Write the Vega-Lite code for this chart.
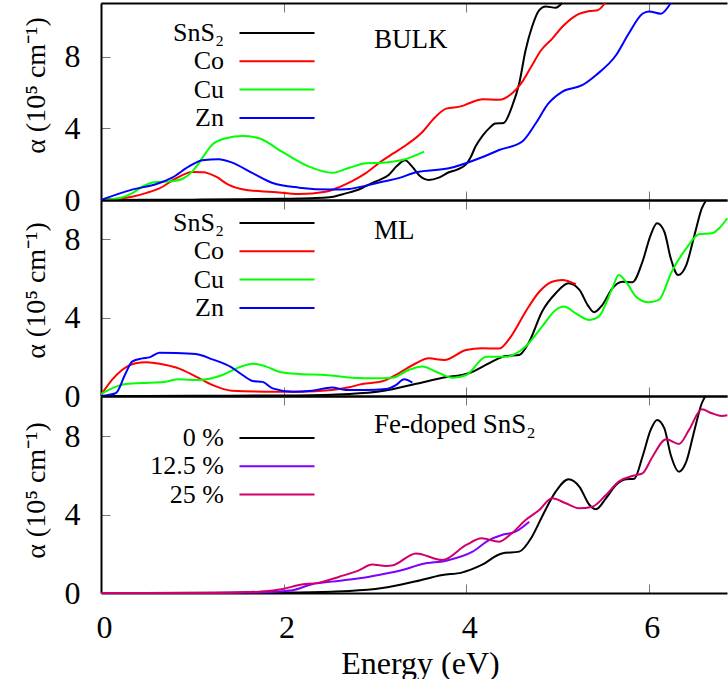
{
  "$schema": "https://vega.github.io/schema/vega-lite/v6.json",
  "background": "white",
  "padding": {"left": 21, "top": -1, "right": 0, "bottom": 0},
  "bounds": "flush",
  "spacing": 0,
  "config": {
    "view": {"stroke": null},
    "font": "Liberation Serif",
    "axis": {
      "labelFont": "Liberation Serif", "titleFont": "Liberation Serif",
      "labelColor": "black", "titleColor": "black", "titleFontWeight": "normal",
      "domainColor": "black", "domainWidth": 2,
      "tickColor": "#777", "tickWidth": 1, "tickSize": -9,
      "grid": false, "labelFontSize": 32, "titleFontSize": 32, "labelFlush": false
    },
    "legend": {
      "orient": "none", "title": null, "symbolType": "M-4,0H4", "symbolSize": 352, "symbolStrokeWidth": 2,
      "labelFont": "Liberation Serif", "labelFontSize": 26, "labelColor": "black", "labelAlign": "right",
      "labelOffset": -66, "rowPadding": 2.3, "labelLimit": 300, "padding": 0
    },
    "line": {"strokeWidth": 2, "interpolate": "monotone", "clip": true}
  },
  "datasets": {
    "bulk": [
      {"E":0,"a":0,"s":"SnS₂"},{"E":0.5,"a":0.01,"s":"SnS₂"},{"E":1.0,"a":0.02,"s":"SnS₂"},{"E":1.5,"a":0.04,"s":"SnS₂"},{"E":2.0,"a":0.07,"s":"SnS₂"},{"E":2.3,"a":0.1,"s":"SnS₂"},{"E":2.5,"a":0.15,"s":"SnS₂"},{"E":2.68,"a":0.37,"s":"SnS₂"},{"E":2.83,"a":0.6,"s":"SnS₂"},{"E":2.95,"a":0.9,"s":"SnS₂"},{"E":3.04,"a":1.1,"s":"SnS₂"},{"E":3.15,"a":1.4,"s":"SnS₂"},{"E":3.24,"a":1.9,"s":"SnS₂"},{"E":3.33,"a":2.22,"s":"SnS₂"},{"E":3.41,"a":1.85,"s":"SnS₂"},{"E":3.49,"a":1.35,"s":"SnS₂"},{"E":3.59,"a":1.12,"s":"SnS₂"},{"E":3.7,"a":1.25,"s":"SnS₂"},{"E":3.81,"a":1.55,"s":"SnS₂"},{"E":3.9,"a":1.7,"s":"SnS₂"},{"E":4.0,"a":2.0,"s":"SnS₂"},{"E":4.05,"a":2.4,"s":"SnS₂"},{"E":4.1,"a":2.97,"s":"SnS₂"},{"E":4.18,"a":3.6,"s":"SnS₂"},{"E":4.25,"a":4.0,"s":"SnS₂"},{"E":4.32,"a":4.27,"s":"SnS₂"},{"E":4.41,"a":4.3,"s":"SnS₂"},{"E":4.5,"a":5.2,"s":"SnS₂"},{"E":4.58,"a":6.5,"s":"SnS₂"},{"E":4.65,"a":8.36,"s":"SnS₂"},{"E":4.72,"a":9.66,"s":"SnS₂"},{"E":4.8,"a":10.6,"s":"SnS₂"},{"E":4.87,"a":10.8,"s":"SnS₂"},{"E":4.98,"a":10.74,"s":"SnS₂"},{"E":5.05,"a":11.0,"s":"SnS₂"},
      {"E":0,"a":0,"s":"Co"},{"E":0.34,"a":0.18,"s":"Co"},{"E":0.5,"a":0.4,"s":"Co"},{"E":0.64,"a":0.65,"s":"Co"},{"E":0.82,"a":1.2,"s":"Co"},{"E":1.0,"a":1.56,"s":"Co"},{"E":1.12,"a":1.55,"s":"Co"},{"E":1.26,"a":1.3,"s":"Co"},{"E":1.4,"a":0.84,"s":"Co"},{"E":1.59,"a":0.56,"s":"Co"},{"E":1.88,"a":0.45,"s":"Co"},{"E":2.17,"a":0.33,"s":"Co"},{"E":2.46,"a":0.46,"s":"Co"},{"E":2.61,"a":0.72,"s":"Co"},{"E":2.75,"a":1.05,"s":"Co"},{"E":2.9,"a":1.5,"s":"Co"},{"E":3.08,"a":2.2,"s":"Co"},{"E":3.2,"a":2.6,"s":"Co"},{"E":3.35,"a":3.1,"s":"Co"},{"E":3.52,"a":3.8,"s":"Co"},{"E":3.63,"a":4.46,"s":"Co"},{"E":3.78,"a":5.1,"s":"Co"},{"E":3.95,"a":5.24,"s":"Co"},{"E":4.03,"a":5.4,"s":"Co"},{"E":4.18,"a":5.63,"s":"Co"},{"E":4.36,"a":5.6,"s":"Co"},{"E":4.5,"a":5.95,"s":"Co"},{"E":4.6,"a":6.5,"s":"Co"},{"E":4.71,"a":7.43,"s":"Co"},{"E":4.82,"a":8.36,"s":"Co"},{"E":4.94,"a":9.0,"s":"Co"},{"E":5.05,"a":9.66,"s":"Co"},{"E":5.2,"a":10.3,"s":"Co"},{"E":5.35,"a":10.55,"s":"Co"},{"E":5.44,"a":10.6,"s":"Co"},{"E":5.52,"a":11.0,"s":"Co"},
      {"E":0,"a":0,"s":"Cu"},{"E":0.2,"a":0.1,"s":"Cu"},{"E":0.34,"a":0.37,"s":"Cu"},{"E":0.45,"a":0.74,"s":"Cu"},{"E":0.6,"a":1.0,"s":"Cu"},{"E":0.78,"a":1.05,"s":"Cu"},{"E":0.9,"a":1.2,"s":"Cu"},{"E":1.0,"a":1.6,"s":"Cu"},{"E":1.07,"a":2.05,"s":"Cu"},{"E":1.15,"a":2.65,"s":"Cu"},{"E":1.22,"a":3.1,"s":"Cu"},{"E":1.37,"a":3.45,"s":"Cu"},{"E":1.55,"a":3.57,"s":"Cu"},{"E":1.73,"a":3.45,"s":"Cu"},{"E":1.98,"a":2.7,"s":"Cu"},{"E":2.28,"a":1.86,"s":"Cu"},{"E":2.53,"a":1.52,"s":"Cu"},{"E":2.72,"a":1.8,"s":"Cu"},{"E":2.9,"a":2.05,"s":"Cu"},{"E":3.08,"a":2.08,"s":"Cu"},{"E":3.3,"a":2.23,"s":"Cu"},{"E":3.54,"a":2.7,"s":"Cu"},
      {"E":0,"a":0,"s":"Zn"},{"E":0.34,"a":0.58,"s":"Zn"},{"E":0.6,"a":0.88,"s":"Zn"},{"E":0.78,"a":1.25,"s":"Zn"},{"E":0.96,"a":1.86,"s":"Zn"},{"E":1.11,"a":2.22,"s":"Zn"},{"E":1.29,"a":2.28,"s":"Zn"},{"E":1.43,"a":2.1,"s":"Zn"},{"E":1.66,"a":1.5,"s":"Zn"},{"E":1.88,"a":0.95,"s":"Zn"},{"E":2.17,"a":0.69,"s":"Zn"},{"E":2.53,"a":0.58,"s":"Zn"},{"E":2.72,"a":0.62,"s":"Zn"},{"E":2.9,"a":0.8,"s":"Zn"},{"E":3.08,"a":1.02,"s":"Zn"},{"E":3.26,"a":1.22,"s":"Zn"},{"E":3.45,"a":1.55,"s":"Zn"},{"E":3.81,"a":1.77,"s":"Zn"},{"E":4.18,"a":2.4,"s":"Zn"},{"E":4.36,"a":2.79,"s":"Zn"},{"E":4.61,"a":3.25,"s":"Zn"},{"E":4.76,"a":4.27,"s":"Zn"},{"E":4.9,"a":5.39,"s":"Zn"},{"E":5.05,"a":6.04,"s":"Zn"},{"E":5.27,"a":6.41,"s":"Zn"},{"E":5.42,"a":6.97,"s":"Zn"},{"E":5.64,"a":8.08,"s":"Zn"},{"E":5.78,"a":9.3,"s":"Zn"},{"E":5.93,"a":10.4,"s":"Zn"},{"E":6.0,"a":10.53,"s":"Zn"},{"E":6.13,"a":10.4,"s":"Zn"},{"E":6.24,"a":11.0,"s":"Zn"}
    ],
    "ml": [
      {"E":0,"a":0,"s":"SnS₂"},{"E":1.0,"a":0.01,"s":"SnS₂"},{"E":2.0,"a":0.03,"s":"SnS₂"},{"E":2.53,"a":0.07,"s":"SnS₂"},{"E":2.72,"a":0.1,"s":"SnS₂"},{"E":3.08,"a":0.25,"s":"SnS₂"},{"E":3.45,"a":0.62,"s":"SnS₂"},{"E":3.74,"a":0.93,"s":"SnS₂"},{"E":4.03,"a":1.16,"s":"SnS₂"},{"E":4.25,"a":1.67,"s":"SnS₂"},{"E":4.43,"a":2.04,"s":"SnS₂"},{"E":4.58,"a":2.09,"s":"SnS₂"},{"E":4.69,"a":2.77,"s":"SnS₂"},{"E":4.83,"a":4.3,"s":"SnS₂"},{"E":4.98,"a":5.24,"s":"SnS₂"},{"E":5.12,"a":5.75,"s":"SnS₂"},{"E":5.24,"a":5.41,"s":"SnS₂"},{"E":5.33,"a":4.64,"s":"SnS₂"},{"E":5.4,"a":4.27,"s":"SnS₂"},{"E":5.49,"a":4.64,"s":"SnS₂"},{"E":5.6,"a":5.49,"s":"SnS₂"},{"E":5.71,"a":5.83,"s":"SnS₂"},{"E":5.82,"a":5.8,"s":"SnS₂"},{"E":5.93,"a":6.85,"s":"SnS₂"},{"E":6.02,"a":8.21,"s":"SnS₂"},{"E":6.09,"a":8.81,"s":"SnS₂"},{"E":6.17,"a":8.38,"s":"SnS₂"},{"E":6.24,"a":7.02,"s":"SnS₂"},{"E":6.32,"a":6.17,"s":"SnS₂"},{"E":6.41,"a":6.68,"s":"SnS₂"},{"E":6.5,"a":8.21,"s":"SnS₂"},{"E":6.58,"a":9.57,"s":"SnS₂"},{"E":6.63,"a":10.0,"s":"SnS₂"},
      {"E":0,"a":0.05,"s":"Co"},{"E":0.12,"a":0.82,"s":"Co"},{"E":0.23,"a":1.33,"s":"Co"},{"E":0.38,"a":1.67,"s":"Co"},{"E":0.49,"a":1.72,"s":"Co"},{"E":0.71,"a":1.58,"s":"Co"},{"E":0.85,"a":1.41,"s":"Co"},{"E":1.04,"a":0.99,"s":"Co"},{"E":1.22,"a":0.56,"s":"Co"},{"E":1.43,"a":0.27,"s":"Co"},{"E":1.81,"a":0.22,"s":"Co"},{"E":2.17,"a":0.22,"s":"Co"},{"E":2.53,"a":0.31,"s":"Co"},{"E":2.72,"a":0.45,"s":"Co"},{"E":2.86,"a":0.61,"s":"Co"},{"E":3.08,"a":0.75,"s":"Co"},{"E":3.26,"a":1.16,"s":"Co"},{"E":3.45,"a":1.67,"s":"Co"},{"E":3.59,"a":1.92,"s":"Co"},{"E":3.76,"a":1.84,"s":"Co"},{"E":4.0,"a":2.35,"s":"Co"},{"E":4.17,"a":2.43,"s":"Co"},{"E":4.36,"a":2.42,"s":"Co"},{"E":4.5,"a":3.11,"s":"Co"},{"E":4.65,"a":4.3,"s":"Co"},{"E":4.8,"a":5.32,"s":"Co"},{"E":4.94,"a":5.83,"s":"Co"},{"E":5.05,"a":5.92,"s":"Co"},{"E":5.2,"a":5.7,"s":"Co"},
      {"E":0,"a":0.1,"s":"Cu"},{"E":0.12,"a":0.39,"s":"Cu"},{"E":0.27,"a":0.61,"s":"Cu"},{"E":0.53,"a":0.68,"s":"Cu"},{"E":0.71,"a":0.73,"s":"Cu"},{"E":0.85,"a":0.85,"s":"Cu"},{"E":1.07,"a":0.82,"s":"Cu"},{"E":1.33,"a":1.07,"s":"Cu"},{"E":1.51,"a":1.46,"s":"Cu"},{"E":1.66,"a":1.65,"s":"Cu"},{"E":1.81,"a":1.5,"s":"Cu"},{"E":1.95,"a":1.24,"s":"Cu"},{"E":2.17,"a":1.12,"s":"Cu"},{"E":2.46,"a":1.07,"s":"Cu"},{"E":2.75,"a":0.93,"s":"Cu"},{"E":3.01,"a":0.9,"s":"Cu"},{"E":3.19,"a":0.93,"s":"Cu"},{"E":3.37,"a":1.33,"s":"Cu"},{"E":3.52,"a":1.5,"s":"Cu"},{"E":3.67,"a":1.24,"s":"Cu"},{"E":3.85,"a":0.93,"s":"Cu"},{"E":4.0,"a":1.07,"s":"Cu"},{"E":4.22,"a":2.0,"s":"Cu"},{"E":4.43,"a":2.0,"s":"Cu"},{"E":4.65,"a":2.52,"s":"Cu"},{"E":4.83,"a":3.54,"s":"Cu"},{"E":4.98,"a":4.39,"s":"Cu"},{"E":5.07,"a":4.56,"s":"Cu"},{"E":5.2,"a":4.22,"s":"Cu"},{"E":5.35,"a":3.88,"s":"Cu"},{"E":5.45,"a":4.05,"s":"Cu"},{"E":5.6,"a":5.49,"s":"Cu"},{"E":5.67,"a":6.17,"s":"Cu"},{"E":5.75,"a":5.83,"s":"Cu"},{"E":5.86,"a":5.07,"s":"Cu"},{"E":6.0,"a":4.78,"s":"Cu"},{"E":6.11,"a":4.9,"s":"Cu"},{"E":6.25,"a":6.34,"s":"Cu"},{"E":6.41,"a":7.53,"s":"Cu"},{"E":6.55,"a":8.25,"s":"Cu"},{"E":6.69,"a":8.3,"s":"Cu"},{"E":6.77,"a":8.56,"s":"Cu"},{"E":6.86,"a":9.07,"s":"Cu"},
      {"E":0,"a":0,"s":"Zn"},{"E":0.16,"a":0.14,"s":"Zn"},{"E":0.27,"a":1.16,"s":"Zn"},{"E":0.34,"a":1.75,"s":"Zn"},{"E":0.45,"a":1.92,"s":"Zn"},{"E":0.53,"a":1.97,"s":"Zn"},{"E":0.64,"a":2.21,"s":"Zn"},{"E":0.82,"a":2.2,"s":"Zn"},{"E":1.04,"a":2.14,"s":"Zn"},{"E":1.22,"a":1.87,"s":"Zn"},{"E":1.43,"a":1.46,"s":"Zn"},{"E":1.55,"a":1.07,"s":"Zn"},{"E":1.66,"a":0.77,"s":"Zn"},{"E":1.77,"a":0.72,"s":"Zn"},{"E":1.88,"a":0.39,"s":"Zn"},{"E":2.1,"a":0.22,"s":"Zn"},{"E":2.31,"a":0.27,"s":"Zn"},{"E":2.53,"a":0.44,"s":"Zn"},{"E":2.68,"a":0.31,"s":"Zn"},{"E":2.9,"a":0.31,"s":"Zn"},{"E":3.12,"a":0.36,"s":"Zn"},{"E":3.23,"a":0.56,"s":"Zn"},{"E":3.32,"a":0.85,"s":"Zn"},{"E":3.41,"a":0.68,"s":"Zn"}
    ],
    "fe": [
      {"E":0,"a":0,"s":"0 %"},{"E":1.0,"a":0.01,"s":"0 %"},{"E":2.0,"a":0.03,"s":"0 %"},{"E":2.53,"a":0.07,"s":"0 %"},{"E":2.72,"a":0.1,"s":"0 %"},{"E":3.08,"a":0.25,"s":"0 %"},{"E":3.45,"a":0.6,"s":"0 %"},{"E":3.74,"a":0.92,"s":"0 %"},{"E":3.95,"a":1.04,"s":"0 %"},{"E":4.17,"a":1.43,"s":"0 %"},{"E":4.39,"a":2.02,"s":"0 %"},{"E":4.58,"a":2.11,"s":"0 %"},{"E":4.72,"a":2.87,"s":"0 %"},{"E":4.83,"a":3.89,"s":"0 %"},{"E":4.98,"a":5.17,"s":"0 %"},{"E":5.12,"a":5.8,"s":"0 %"},{"E":5.24,"a":5.42,"s":"0 %"},{"E":5.35,"a":4.49,"s":"0 %"},{"E":5.42,"a":4.27,"s":"0 %"},{"E":5.53,"a":4.83,"s":"0 %"},{"E":5.64,"a":5.51,"s":"0 %"},{"E":5.75,"a":5.8,"s":"0 %"},{"E":5.84,"a":5.83,"s":"0 %"},{"E":5.93,"a":6.95,"s":"0 %"},{"E":6.02,"a":8.32,"s":"0 %"},{"E":6.09,"a":8.83,"s":"0 %"},{"E":6.17,"a":8.4,"s":"0 %"},{"E":6.24,"a":7.04,"s":"0 %"},{"E":6.33,"a":6.19,"s":"0 %"},{"E":6.41,"a":6.7,"s":"0 %"},{"E":6.5,"a":8.32,"s":"0 %"},{"E":6.58,"a":9.68,"s":"0 %"},{"E":6.62,"a":10.05,"s":"0 %"},
      {"E":0,"a":0,"s":"12.5 %"},{"E":1.0,"a":0,"s":"12.5 %"},{"E":1.6,"a":0.02,"s":"12.5 %"},{"E":1.9,"a":0.07,"s":"12.5 %"},{"E":2.1,"a":0.14,"s":"12.5 %"},{"E":2.31,"a":0.45,"s":"12.5 %"},{"E":2.53,"a":0.58,"s":"12.5 %"},{"E":2.83,"a":0.75,"s":"12.5 %"},{"E":3.04,"a":0.92,"s":"12.5 %"},{"E":3.3,"a":1.17,"s":"12.5 %"},{"E":3.52,"a":1.48,"s":"12.5 %"},{"E":3.78,"a":1.65,"s":"12.5 %"},{"E":4.07,"a":2.11,"s":"12.5 %"},{"E":4.25,"a":2.7,"s":"12.5 %"},{"E":4.39,"a":2.96,"s":"12.5 %"},{"E":4.54,"a":3.13,"s":"12.5 %"},{"E":4.69,"a":3.64,"s":"12.5 %"},
      {"E":0,"a":0,"s":"25 %"},{"E":1.0,"a":0,"s":"25 %"},{"E":1.5,"a":0.03,"s":"25 %"},{"E":1.73,"a":0.07,"s":"25 %"},{"E":1.98,"a":0.19,"s":"25 %"},{"E":2.17,"a":0.41,"s":"25 %"},{"E":2.39,"a":0.53,"s":"25 %"},{"E":2.61,"a":0.83,"s":"25 %"},{"E":2.83,"a":1.17,"s":"25 %"},{"E":2.97,"a":1.45,"s":"25 %"},{"E":3.12,"a":1.38,"s":"25 %"},{"E":3.2,"a":1.42,"s":"25 %"},{"E":3.45,"a":2.02,"s":"25 %"},{"E":3.74,"a":1.68,"s":"25 %"},{"E":4.0,"a":2.45,"s":"25 %"},{"E":4.17,"a":2.79,"s":"25 %"},{"E":4.36,"a":2.62,"s":"25 %"},{"E":4.5,"a":3.05,"s":"25 %"},{"E":4.65,"a":3.72,"s":"25 %"},{"E":4.8,"a":4.23,"s":"25 %"},{"E":4.94,"a":4.83,"s":"25 %"},{"E":5.09,"a":4.58,"s":"25 %"},{"E":5.24,"a":4.32,"s":"25 %"},{"E":5.38,"a":4.4,"s":"25 %"},{"E":5.53,"a":5.0,"s":"25 %"},{"E":5.67,"a":5.68,"s":"25 %"},{"E":5.82,"a":5.97,"s":"25 %"},{"E":5.93,"a":6.1,"s":"25 %"},{"E":6.04,"a":6.95,"s":"25 %"},{"E":6.19,"a":7.84,"s":"25 %"},{"E":6.33,"a":7.6,"s":"25 %"},{"E":6.44,"a":8.32,"s":"25 %"},{"E":6.58,"a":9.37,"s":"25 %"},{"E":6.69,"a":9.17,"s":"25 %"},{"E":6.8,"a":9.03,"s":"25 %"},{"E":6.86,"a":9.07,"s":"25 %"}
    ]
  },
  "resolve": {"scale": {"color": "independent"}, "legend": {"color": "independent"}},
  "vconcat": [
    {
      "width": 626, "height": 197,
      "resolve": {"axis": {"x": "independent"}},
      "layer": [
        {
          "data": {"name": "bulk"},
          "mark": {"type": "line"},
          "encoding": {
            "x": {"field": "E", "type": "quantitative", "scale": {"domain": [0, 6.856], "nice": false, "zero": false},
                  "axis": {"orient": "bottom", "values": [0, 2, 4, 6], "labels": false, "title": null}},
            "y": {"field": "a", "type": "quantitative", "scale": {"domain": [0, 11], "nice": false},
                  "axis": {"values": [0, 4, 8], "labelPadding": 30, "title": "α (10⁵ cm⁻¹)", "titleX": -57, "titleY": 82, "titleBaseline": "alphabetic", "titleFontSize": 28}},
            "color": {"field": "s", "type": "nominal",
                      "scale": {"domain": ["SnS₂", "Co", "Cu", "Zn"], "range": ["#000000", "#ff0000", "#00ff00", "#0000ff"]},
                      "legend": {"legendX": 163, "legendY": 17}}
          }
        },
        {
          "data": {"values": [{"t": "BULK"}]},
          "mark": {"type": "text", "align": "left", "baseline": "alphabetic", "font": "Liberation Serif", "fontSize": 27, "color": "black"},
          "encoding": {
            "x": {"datum": 2.99, "type": "quantitative", "scale": {"domain": [0, 6.856], "nice": false, "zero": false},
                  "axis": {"orient": "top", "values": [0, 2, 4, 6], "labels": false, "title": null}},
            "y": {"datum": 8.46, "type": "quantitative", "scale": {"domain": [0, 11], "nice": false},
                  "axis": {"values": [0, 4, 8], "labelPadding": 30, "title": "α (10⁵ cm⁻¹)", "titleX": -57, "titleY": 82, "titleBaseline": "alphabetic", "titleFontSize": 28}},
            "text": {"field": "t", "type": "nominal"}
          }
        }
      ]
    },
    {
      "width": 626, "height": 196,
      "resolve": {"axis": {"x": "independent"}},
      "layer": [
        {
          "data": {"name": "ml"},
          "mark": {"type": "line"},
          "encoding": {
            "x": {"field": "E", "type": "quantitative", "scale": {"domain": [0, 6.856], "nice": false, "zero": false},
                  "axis": {"orient": "bottom", "values": [0, 2, 4, 6], "labels": false, "title": null}},
            "y": {"field": "a", "type": "quantitative", "scale": {"domain": [0, 10], "nice": false},
                  "axis": {"values": [0, 4, 8], "labelPadding": 30, "title": "α (10⁵ cm⁻¹)", "titleX": -57, "titleY": 90, "titleBaseline": "alphabetic", "titleFontSize": 28}},
            "color": {"field": "s", "type": "nominal",
                      "scale": {"domain": ["SnS₂", "Co", "Cu", "Zn"], "range": ["#000000", "#ff0000", "#00ff00", "#0000ff"]},
                      "legend": {"legendX": 163, "legendY": 10}}
          }
        },
        {
          "data": {"values": [{"t": "ML"}]},
          "mark": {"type": "text", "align": "left", "baseline": "alphabetic", "font": "Liberation Serif", "fontSize": 27, "color": "black"},
          "encoding": {
            "x": {"datum": 2.99, "type": "quantitative", "scale": {"domain": [0, 6.856], "nice": false, "zero": false},
                  "axis": {"orient": "top", "values": [0, 2, 4, 6], "labels": false, "title": null}},
            "y": {"datum": 8.02, "type": "quantitative", "scale": {"domain": [0, 10], "nice": false},
                  "axis": {"values": [0, 4, 8], "labelPadding": 30, "title": "α (10⁵ cm⁻¹)", "titleX": -57, "titleY": 90, "titleBaseline": "alphabetic", "titleFontSize": 28}},
            "text": {"field": "t", "type": "nominal"}
          }
        }
      ]
    },
    {
      "width": 626, "height": 197,
      "resolve": {"axis": {"x": "independent"}},
      "layer": [
        {
          "data": {"name": "fe"},
          "mark": {"type": "line"},
          "encoding": {
            "x": {"field": "E", "type": "quantitative", "scale": {"domain": [0, 6.856], "nice": false, "zero": false},
                  "axis": {"orient": "bottom", "values": [0, 2, 4, 6], "labelPadding": 28, "labelOffset": 3, "title": "Energy (eV)", "titleX": 319, "titleY": 80, "titleBaseline": "alphabetic", "titleFontSize": 32}},
            "y": {"field": "a", "type": "quantitative", "scale": {"domain": [0, 10.05], "nice": false},
                  "axis": {"values": [0, 4, 8], "labelPadding": 30, "title": "α (10⁵ cm⁻¹)", "titleX": -57, "titleY": 94, "titleBaseline": "alphabetic", "titleFontSize": 28}},
            "color": {"field": "s", "type": "nominal",
                      "scale": {"domain": ["0 %", "12.5 %", "25 %"], "range": ["#000000", "#8000ff", "#d0006a"]},
                      "legend": {"legendX": 163, "legendY": 29}}
          }
        },
        {
          "data": {"values": [{"t": "Fe-doped SnS₂"}]},
          "mark": {"type": "text", "align": "left", "baseline": "alphabetic", "font": "Liberation Serif", "fontSize": 27, "color": "black"},
          "encoding": {
            "x": {"datum": 2.99, "type": "quantitative", "scale": {"domain": [0, 6.856], "nice": false, "zero": false},
                  "axis": {"orient": "top", "values": [0, 2, 4, 6], "labels": false, "title": null}},
            "y": {"datum": 8.16, "type": "quantitative", "scale": {"domain": [0, 10.05], "nice": false},
                  "axis": {"values": [0, 4, 8], "labelPadding": 30, "title": "α (10⁵ cm⁻¹)", "titleX": -57, "titleY": 94, "titleBaseline": "alphabetic", "titleFontSize": 28}},
            "text": {"field": "t", "type": "nominal"}
          }
        }
      ]
    }
  ]
}
